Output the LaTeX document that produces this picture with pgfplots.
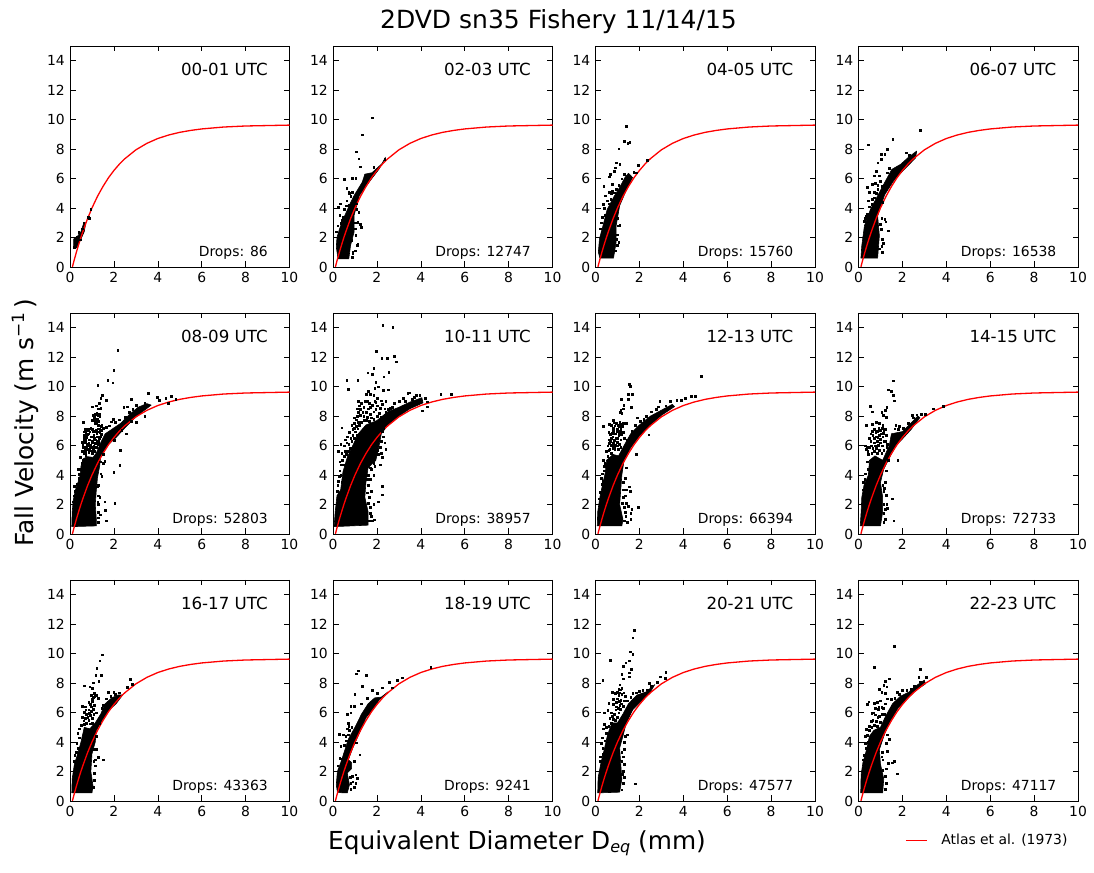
\documentclass[border=0pt]{standalone}
\usepackage{fontspec}
\setmainfont{DejaVu Sans}
\usepackage{pgfplots}
\usepackage{pgfplotstable}
\pgfplotsset{compat=1.18}

% Atlas et al. (1973) curve
\pgfplotstableread[row sep=\\]{
x y\\ 0.11 0.01\\ 0.2 0.52\\ 0.3 1.05\\ 0.4 1.55\\ 0.5 2.02\\ 0.6 2.46\\ 0.8 3.28\\ 1.0 4.00\\ 1.25 4.79\\
1.5 5.46\\ 1.75 6.05\\ 2.0 6.55\\ 2.25 6.98\\ 2.5 7.35\\ 3.0 7.95\\ 3.5 8.39\\ 4.0 8.72\\ 4.5 8.96\\
5.0 9.14\\ 5.5 9.27\\ 6.0 9.37\\ 7.0 9.50\\ 8.0 9.57\\ 9.0 9.60\\ 10.0 9.63\\
}\atlas

% one core outline (solid part of the cloud) and one table of loose drops per panel
% 00-01
\pgfplotstableread[row sep=\\]{
x y\\ 0.17 1.35\\ 0.17 1.9\\ 0.35 2.1\\ 0.5 2.4\\ 0.63 3.0\\ 0.72 3.0\\ 0.65 2.4\\ 0.5 1.9\\ 0.4 1.6\\ 0.3 1.3\\
}\coreA
\pgfplotstableread[row sep=\\]{
x y\\ 0.18 1.35\\ 0.3 2.0\\ 0.4 2.37\\ 0.62 3.0\\ 0.83 3.36\\ 0.88 3.3\\ 0.94 3.9\\ 0.48 1.85\\ 0.55 2.6\\ 0.25 1.7\\
}\dropsA
% 02-03
\pgfplotstableread[row sep=\\]{
x y\\ 0.23 0.55\\ 0.15 1.35\\ 0.18 2.0\\ 0.28 2.5\\ 0.42 3.1\\ 0.6 3.7\\ 0.78 4.3\\ 0.96 4.85\\ 1.33 5.75\\ 1.45 6.3\\ 1.78 6.4\\ 2.26 7.05\\ 2.39 7.45\\
2.1 6.65\\ 1.7 5.87\\ 1.2 4.85\\ 0.96 3.5\\ 0.96 2.37\\ 0.8 1.47\\ 0.72 0.56\\
}\coreB
\pgfplotstableread[row sep=\\]{
x y\\ 1.77 10.13\\ 1.33 8.98\\ 1.07 7.83\\ 1.17 7.34\\ 1.25 6.8\\ 0.52 5.98\\ 0.88 6.05\\ 1.04 6.05\\ 0.63 5.37\\ 0.72 5.12\\
0.88 5.08\\ 0.34 4.29\\ 0.23 4.06\\ 0.63 4.5\\ 0.72 4.18\\ 0.8 4.8\\ 1.12 3.05\\ 1.25 2.9\\ 1.3 2.7\\ 1.1 1.5\\ 0.88 0.65\\
1.85 6.77\\ 2.35 7.3\\ 0.31 3.5\\ 0.39 3.16\\ 1.12 1.58\\ 1.04 2.14\\ 1.17 3.72\\ 0.5 3.9\\ 0.45 3.4\\ 0.9 1.0\\ 0.85 1.8\\
0.15 2.4\\ 0.22 2.8\\ 0.35 2.95\\ 1.02 2.6\\ 1.0 3.0\\ 1.08 3.9\\ 1.05 4.3\\ 0.75 5.0\\ 0.6 4.15\\ 0.9 0.9\\ 1.0 1.1\\
}\dropsB
% 04-05
\pgfplotstableread[row sep=\\]{
x y\\ 0.2 0.6\\ 0.13 1.0\\ 0.18 1.9\\ 0.34 2.8\\ 0.53 3.9\\ 0.85 4.8\\ 1.1 5.4\\ 1.34 6.07\\ 1.5 6.36\\ 1.69 6.07\\ 1.42 5.28\\
1.1 4.16\\ 0.94 2.8\\ 0.94 1.69\\ 0.82 0.6\\
}\coreC
\pgfplotstableread[row sep=\\]{
x y\\ 1.39 9.55\\ 1.31 8.54\\ 1.56 8.47\\ 1.47 8.38\\ 1.06 8.02\\ 0.94 7.08\\ 1.1 7.0\\ 0.9 6.74\\ 0.85 6.52\\ 0.66 6.3\\ 0.63 6.13\\
0.37 5.5\\ 0.77 5.6\\ 1.05 5.55\\ 0.34 4.27\\ 0.45 4.83\\ 0.61 5.06\\ 0.53 4.5\\ 0.69 4.6\\ 0.77 5.17\\ 1.95 6.9\\ 2.35 7.24\\
1.74 6.45\\ 1.85 6.4\\ 1.1 2.85\\ 1.05 1.69\\ 1.0 2.2\\ 0.3 3.4\\ 0.45 3.5\\ 0.4 4.0\\ 0.95 5.3\\ 0.9 1.1\\
0.25 3.0\\ 0.22 2.6\\ 0.6 4.3\\ 0.7 5.0\\ 0.85 5.05\\ 1.0 3.3\\ 1.02 2.8\\ 0.98 1.5\\ 0.95 1.9\\ 1.2 6.0\\ 1.3 6.3\\
}\dropsC
% 06-07
\pgfplotstableread[row sep=\\]{
x y\\ 0.11 0.6\\ 0.15 1.46\\ 0.27 2.8\\ 0.55 3.93\\ 0.87 4.83\\ 1.19 5.73\\ 1.52 6.63\\ 1.92 6.97\\ 2.24 7.4\\ 2.65 7.87\\ 2.6 7.4\\
2.1 6.65\\ 1.6 5.85\\ 1.19 4.9\\ 0.87 3.48\\ 0.95 2.13\\ 0.87 0.6\\
}\coreD
\pgfplotstableread[row sep=\\]{
x y\\ 2.81 9.28\\ 1.56 8.65\\ 0.44 8.31\\ 1.31 7.98\\ 1.03 7.64\\ 1.19 7.64\\ 1.03 7.3\\ 0.87 7.08\\ 0.79 6.52\\ 0.71 6.2\\ 0.39 5.4\\
0.63 5.62\\ 0.71 5.06\\ 0.87 5.28\\ 0.39 3.6\\ 0.63 4.6\\ 0.5 5.1\\ 0.75 5.7\\ 1.35 2.47\\ 1.19 3.26\\ 1.24 3.08\\ 1.08 1.0\\
0.95 1.24\\ 1.08 1.9\\ 1.03 2.58\\ 2.16 7.75\\ 2.32 7.6\\ 0.3 3.3\\ 0.45 4.5\\ 0.95 6.2\\ 1.05 5.5\\ 1.1 4.4\\ 1.12 1.6\\
0.25 3.1\\ 0.35 3.45\\ 0.5 4.1\\ 0.6 4.25\\ 0.72 4.7\\ 0.8 5.0\\ 0.88 5.55\\ 1.0 5.8\\ 1.05 3.3\\ 1.0 2.9\\ 1.05 1.4\\ 1.3 6.4\\ 1.4 6.7\\
}\dropsD
% 08-09
\pgfplotstableread[row sep=\\]{
x y\\ 0.08 0.5\\ 0.1 1.5\\ 0.15 2.3\\ 0.25 3.0\\ 0.45 3.9\\ 0.5 4.6\\ 0.6 5.1\\ 0.8 5.25\\ 1.05 5.2\\ 1.2 5.5\\ 1.4 6.2\\ 1.6 6.8\\ 1.9 7.1\\
2.3 7.5\\ 2.7 8.1\\ 3.1 8.6\\ 3.5 8.85\\ 3.7 8.75\\ 3.3 8.3\\ 2.9 7.8\\ 2.5 7.2\\ 2.1 6.55\\ 1.7 6.0\\ 1.4 5.3\\ 1.35 4.6\\ 1.25 3.8\\
1.2 3.0\\ 1.15 2.0\\ 1.2 1.0\\ 1.2 0.55\\
}\coreE
\pgfplotstableread[row sep=\\]{
x y\\ 2.17 12.48\\ 1.99 11.13\\ 1.72 10.45\\ 1.95 10.27\\ 1.26 10.11\\ 1.47 9.44\\ 1.4 9.2\\ 1.66 9.1\\ 1.32 8.87\\ 1.0 8.65\\ 1.2 8.7\\
1.4 8.53\\ 1.3 8.5\\ 1.05 8.05\\ 1.15 8.15\\ 1.25 8.1\\ 1.35 8.0\\ 1.1 7.85\\ 1.0 7.7\\ 0.61 7.58\\ 1.2 7.6\\ 1.3 7.4\\ 0.7 7.0\\ 0.8 7.1\\
0.9 6.95\\ 1.05 7.0\\ 1.2 7.05\\ 1.35 7.1\\ 1.45 7.05\\ 0.65 6.7\\ 0.75 6.55\\ 0.85 6.8\\ 0.95 6.6\\ 1.1 6.5\\ 1.25 6.6\\ 0.55 6.25\\
0.7 6.2\\ 0.85 6.15\\ 1.0 6.3\\ 1.15 6.15\\ 1.3 6.3\\ 0.6 5.9\\ 0.75 5.9\\ 0.9 5.8\\ 1.05 5.75\\ 1.15 5.85\\ 0.55 5.6\\ 0.7 5.5\\
0.85 5.55\\ 1.0 5.45\\ 0.45 5.2\\ 0.35 4.4\\ 0.4 4.05\\ 0.2 3.25\\ 0.3 3.15\\ 3.56 9.55\\ 3.97 9.28\\ 4.06 9.1\\ 4.36 9.2\\ 4.62 9.37\\
4.47 8.87\\ 4.82 9.16\\ 2.8 9.14\\ 2.6 8.65\\ 2.45 8.6\\ 3.4 8.9\\ 2.26 4.65\\ 1.99 4.18\\ 2.04 2.08\\ 1.66 0.9\\ 1.61 1.6\\ 1.58 2.2\\
1.3 2.0\\ 1.38 1.3\\ 1.35 2.5\\ 1.3 3.3\\ 0.97 3.34\\ 1.45 3.9\\ 1.5 4.8\\ 1.58 4.92\\ 1.96 7.8\\ 1.88 7.63\\ 2.3 5.7\\ 2.55 6.8\\ 3.0 7.6\\
3.4 8.0\\ 1.3 0.8\\
0.6 5.0\\ 0.55 4.8\\ 0.48 4.4\\ 0.42 3.8\\ 0.3 3.4\\ 0.25 2.9\\ 0.18 2.6\\ 0.12 2.2\\ 0.62 5.45\\ 0.68 5.7\\ 0.72 5.35\\ 0.78 5.75\\
0.82 6.0\\ 0.88 5.65\\ 0.92 6.05\\ 0.98 5.9\\ 1.02 5.6\\ 1.08 5.95\\ 1.12 5.6\\ 1.18 5.9\\ 1.22 6.3\\ 1.28 6.1\\ 1.32 6.5\\ 1.38 6.6\\
1.42 6.75\\ 0.58 6.1\\ 0.62 6.35\\ 0.66 6.5\\ 0.72 6.35\\ 0.78 6.1\\ 0.8 6.75\\ 0.82 7.05\\ 0.88 6.4\\ 0.9 7.15\\ 0.94 7.2\\ 1.0 7.1\\
1.02 6.2\\ 1.08 6.7\\ 1.12 6.95\\ 1.15 6.4\\ 1.18 7.0\\ 1.22 6.85\\ 1.28 6.95\\ 1.3 7.15\\ 1.35 6.9\\ 1.4 7.3\\ 1.45 7.4\\ 1.5 7.2\\
0.65 6.95\\ 0.68 7.1\\ 0.72 6.75\\ 0.75 7.15\\ 1.18 7.75\\ 1.25 7.8\\ 1.28 8.05\\ 1.32 8.15\\ 1.22 8.2\\ 1.12 8.0\\ 1.08 7.7\\ 1.15 7.5\\
1.3 7.65\\ 1.25 3.2\\ 1.28 2.6\\ 1.26 2.2\\ 1.3 1.5\\ 1.28 1.1\\ 1.4 4.1\\ 1.38 4.9\\ 1.5 5.4\\ 1.65 7.25\\ 1.8 7.35\\ 2.05 7.6\\ 2.25 7.75\\
2.5 7.95\\ 2.7 8.25\\ 2.85 8.45\\ 3.0 8.75\\ 2.8 7.65\\ 2.35 7.05\\ 2.0 6.35\\
}\dropsE
% 10-11
\pgfplotstableread[row sep=\\]{
x y\\ 0.05 0.5\\ 0.1 1.5\\ 0.18 2.6\\ 0.35 3.0\\ 0.45 4.2\\ 0.65 5.2\\ 0.9 6.0\\ 1.15 6.8\\ 1.5 7.4\\ 2.0 7.7\\ 2.5 8.3\\ 3.0 8.6\\
3.5 8.95\\ 4.05 9.25\\ 4.1 8.9\\ 3.5 8.5\\ 3.0 8.0\\ 2.5 7.4\\ 2.2 6.8\\ 2.1 6.0\\ 1.95 5.0\\ 1.6 4.5\\ 1.5 3.5\\ 1.45 2.5\\ 1.6 1.5\\ 1.6 0.6\\
}\coreF
\pgfplotstableread[row sep=\\]{
x y\\ 2.26 14.17\\ 2.72 14.04\\ 1.98 12.41\\ 2.78 12.07\\ 2.22 11.94\\ 2.48 11.94\\ 2.89 11.69\\ 1.85 11.26\\ 1.58 10.95\\ 1.79 10.86\\
2.54 10.99\\ 2.31 10.68\\ 0.62 10.45\\ 1.12 10.45\\ 0.7 9.84\\ 4.91 9.5\\ 5.4 9.5\\ 4.3 8.98\\ 4.3 8.65\\ 4.07 8.37\\ 0.4 7.22\\ 2.25 3.23\\
2.25 2.66\\ 2.07 2.2\\ 1.87 0.97\\ 1.95 10.3\\ 1.9 9.9\\ 2.05 10.0\\ 2.3 9.75\\ 2.5 9.8\\ 1.6 9.7\\ 1.7 9.5\\ 1.5 9.5\\ 1.85 9.4\\ 2.0 9.2\\
2.2 9.05\\ 2.4 9.0\\ 1.9 9.0\\ 1.15 9.0\\ 1.3 8.9\\ 1.45 9.0\\ 1.65 8.9\\ 1.8 8.75\\ 2.0 8.7\\ 2.15 8.55\\ 1.1 8.5\\ 1.25 8.45\\ 1.4 8.6\\
1.6 8.5\\ 1.85 8.3\\ 2.1 8.2\\ 2.4 8.25\\ 2.7 8.6\\ 3.0 9.0\\ 3.2 9.2\\ 3.4 9.55\\ 3.5 9.6\\ 3.7 9.3\\ 0.95 7.9\\ 1.1 8.0\\ 1.25 8.05\\
1.4 8.0\\ 1.55 7.95\\ 1.75 7.9\\ 0.85 7.4\\ 0.95 7.5\\ 0.75 6.9\\ 0.9 7.1\\ 1.05 7.3\\ 0.55 6.4\\ 0.65 6.6\\ 0.8 6.5\\ 0.35 6.1\\ 0.5 6.0\\
0.62 6.2\\ 0.25 5.6\\ 0.4 5.5\\ 0.5 5.3\\ 0.3 4.9\\ 0.38 4.7\\ 0.3 4.3\\ 0.28 3.9\\ 2.3 7.2\\ 2.3 6.6\\ 2.35 6.2\\ 2.4 5.75\\ 2.2 5.5\\
2.25 5.2\\ 2.15 4.7\\ 1.9 4.6\\ 1.75 4.4\\ 1.85 4.0\\ 1.7 3.7\\ 1.6 3.3\\ 1.75 2.9\\ 1.85 2.0\\ 1.7 1.8\\ 1.75 1.2\\ 1.8 0.9\\ 4.2 9.2\\
0.42 5.0\\ 0.5 4.7\\ 0.55 5.6\\ 0.6 5.4\\ 0.7 5.6\\ 0.72 6.1\\ 0.78 5.8\\ 0.85 6.3\\ 0.9 6.7\\ 0.98 6.5\\ 1.0 6.95\\ 1.08 6.7\\ 1.12 7.15\\
0.95 7.2\\ 1.15 7.6\\ 1.2 7.4\\ 1.3 7.6\\ 1.4 7.7\\ 1.5 7.7\\ 1.65 7.65\\ 1.85 7.8\\ 2.0 8.0\\ 2.2 7.95\\ 2.35 8.1\\ 2.5 8.45\\ 2.6 8.55\\
1.05 7.75\\ 1.15 8.25\\ 1.2 8.7\\ 1.35 8.25\\ 1.5 8.25\\ 1.7 8.15\\ 1.95 8.45\\ 1.7 8.6\\ 1.95 8.95\\ 1.55 9.0\\ 2.25 8.8\\ 2.35 8.5\\
2.15 7.5\\ 2.25 7.0\\ 2.2 6.3\\ 2.15 5.9\\ 2.05 5.4\\ 2.0 5.7\\ 1.85 4.8\\ 1.7 4.5\\ 1.6 4.0\\ 1.55 3.7\\ 1.65 2.5\\ 1.55 2.8\\ 1.6 2.1\\
1.7 1.4\\ 1.65 0.9\\ 0.22 3.3\\ 0.25 3.6\\ 0.2 2.9\\ 0.42 3.5\\ 0.35 4.0\\ 2.8 8.9\\ 3.3 9.0\\ 3.6 9.15\\ 3.8 9.4\\ 3.95 9.4\\
}\dropsF
% 12-13
\pgfplotstableread[row sep=\\]{
x y\\ 0.08 0.55\\ 0.1 1.5\\ 0.2 2.5\\ 0.3 3.2\\ 0.45 4.2\\ 0.5 5.0\\ 0.8 5.4\\ 1.05 5.3\\ 1.3 6.0\\ 1.6 6.8\\ 2.0 7.4\\ 2.5 8.0\\ 3.0 8.4\\
3.5 8.8\\ 3.6 8.65\\ 3.0 8.05\\ 2.5 7.4\\ 2.0 6.65\\ 1.6 5.85\\ 1.3 5.0\\ 1.2 4.0\\ 1.15 3.0\\ 1.1 2.0\\ 1.25 1.0\\ 1.2 0.55\\
}\coreG
\pgfplotstableread[row sep=\\]{
x y\\ 4.82 10.72\\ 1.53 10.16\\ 1.58 10.02\\ 1.49 9.48\\ 1.67 9.48\\ 1.17 9.14\\ 1.49 9.15\\ 1.28 8.76\\ 1.63 8.6\\ 1.15 8.4\\ 1.25 8.5\\
1.2 8.2\\ 1.1 8.25\\ 0.35 7.3\\ 0.82 7.7\\ 0.62 7.45\\ 0.95 7.5\\ 1.1 7.6\\ 1.25 7.5\\ 0.8 7.2\\ 1.0 7.15\\ 1.15 7.2\\ 0.6 6.9\\ 0.75 6.85\\
0.9 6.8\\ 1.05 6.9\\ 0.6 6.4\\ 0.7 6.5\\ 0.85 6.35\\ 1.0 6.5\\ 1.15 6.4\\ 0.55 6.0\\ 0.7 6.05\\ 0.85 5.95\\ 1.0 6.0\\ 0.5 5.6\\ 0.65 5.75\\
0.35 5.0\\ 0.4 4.6\\ 0.3 4.1\\ 0.35 3.6\\ 4.54 9.33\\ 4.35 9.37\\ 4.09 9.2\\ 3.7 9.1\\ 3.9 9.1\\ 2.92 8.99\\ 2.87 8.65\\ 2.42 6.73\\ 1.96 1.8\\
1.85 5.4\\ 1.58 2.9\\ 1.55 3.2\\ 1.4 3.0\\ 1.35 2.6\\ 1.5 1.9\\ 1.65 1.7\\ 1.6 1.4\\ 1.35 1.5\\ 1.6 1.0\\ 1.45 0.8\\ 1.3 0.9\\ 1.4 2.1\\
1.35 3.8\\ 1.9 7.9\\ 2.2 7.8\\
0.55 5.3\\ 0.6 5.7\\ 0.62 6.15\\ 0.68 6.3\\ 0.72 5.5\\ 0.78 5.8\\ 0.82 6.15\\ 0.88 5.75\\ 0.92 6.05\\ 0.98 6.25\\ 1.02 5.75\\ 1.05 6.7\\
1.08 6.1\\ 1.12 7.0\\ 1.18 6.75\\ 0.68 6.75\\ 0.78 6.6\\ 0.82 7.0\\ 0.88 7.35\\ 0.92 6.5\\ 0.98 7.0\\ 1.02 7.4\\ 1.08 7.3\\ 1.12 7.45\\
1.22 7.3\\ 1.3 7.5\\ 1.4 7.5\\ 1.3 6.5\\ 1.25 6.9\\ 0.72 7.4\\ 0.85 7.55\\ 1.15 5.9\\ 0.42 4.8\\ 0.38 4.3\\ 0.28 3.4\\ 0.22 2.85\\ 0.25 3.8\\
0.18 2.4\\ 1.25 3.5\\ 1.25 2.5\\ 1.22 2.1\\ 1.3 1.8\\ 1.38 1.2\\ 1.25 3.0\\ 1.4 4.5\\ 1.45 6.4\\ 1.65 7.0\\ 1.8 7.4\\ 2.05 7.65\\ 2.3 8.0\\
2.55 8.3\\ 2.75 8.45\\ 3.2 8.7\\ 3.4 9.0\\
}\dropsG
% 14-15
\pgfplotstableread[row sep=\\]{
x y\\ 0.08 0.55\\ 0.12 1.5\\ 0.15 2.5\\ 0.25 3.3\\ 0.45 4.0\\ 0.5 5.0\\ 0.75 5.3\\ 1.1 5.0\\ 1.4 6.0\\ 1.5 6.8\\ 2.0 6.95\\ 2.3 7.4\\ 2.7 8.0\\
2.8 7.9\\ 2.4 7.1\\ 2.0 6.45\\ 1.7 6.0\\ 1.4 5.15\\ 1.15 4.4\\ 1.0 3.5\\ 1.1 2.5\\ 1.1 1.5\\ 1.0 0.55\\
}\coreH
\pgfplotstableread[row sep=\\]{
x y\\ 1.57 10.4\\ 1.35 9.8\\ 1.49 9.7\\ 1.57 9.4\\ 1.63 9.05\\ 0.53 8.69\\ 0.62 8.3\\ 1.29 8.6\\ 1.06 8.25\\ 1.14 8.07\\ 1.22 8.4\\ 1.25 7.95\\
3.87 8.69\\ 3.39 8.5\\ 3.04 8.15\\ 2.43 8.08\\ 0.35 7.4\\ 0.62 7.45\\ 0.8 7.6\\ 0.95 7.5\\ 1.1 7.4\\ 0.7 7.1\\ 0.85 7.0\\ 1.0 7.05\\ 1.2 7.1\\
0.55 6.8\\ 0.65 6.7\\ 0.8 6.6\\ 0.95 6.7\\ 1.1 6.6\\ 1.25 6.7\\ 0.55 6.3\\ 0.7 6.2\\ 0.85 6.3\\ 1.0 6.2\\ 1.15 6.3\\ 1.3 6.1\\ 0.3 6.0\\
0.4 5.9\\ 0.5 5.9\\ 0.65 5.8\\ 0.8 5.8\\ 0.95 5.7\\ 1.15 5.7\\ 0.45 5.4\\ 0.3 4.1\\ 0.28 3.7\\ 1.79 5.0\\ 1.52 2.4\\ 1.6 0.9\\ 1.29 2.0\\
1.3 1.75\\ 1.25 2.65\\ 1.15 2.9\\ 1.2 1.0\\ 1.15 0.8\\ 1.2 3.5\\ 1.7 7.4\\ 1.85 7.3\\
0.6 5.5\\ 0.7 5.6\\ 0.75 6.0\\ 0.85 5.5\\ 0.9 6.05\\ 0.98 6.45\\ 1.05 5.5\\ 1.08 6.0\\ 1.12 6.85\\ 1.22 6.3\\ 1.28 5.9\\ 0.72 6.5\\
0.78 6.9\\ 0.88 6.55\\ 0.92 7.2\\ 1.02 6.8\\ 1.08 7.2\\ 1.15 7.05\\ 0.6 7.0\\ 0.65 7.0\\ 0.5 6.5\\ 0.58 6.0\\ 0.42 5.6\\ 0.35 5.75\\
0.4 4.9\\ 0.42 4.4\\ 0.22 3.5\\ 0.2 3.0\\ 1.15 2.0\\ 1.15 1.4\\ 1.2 1.7\\ 1.1 3.3\\ 1.18 3.1\\ 1.25 4.3\\ 1.35 5.0\\ 1.65 7.15\\ 1.8 7.1\\
2.05 7.2\\ 2.25 7.5\\ 2.5 7.9\\ 2.65 8.1\\ 2.85 8.15\\
}\dropsH
% 16-17
\pgfplotstableread[row sep=\\]{
x y\\ 0.08 0.55\\ 0.1 1.5\\ 0.2 2.5\\ 0.35 3.2\\ 0.5 4.0\\ 0.65 5.0\\ 0.9 4.9\\ 1.15 5.3\\ 1.4 5.9\\ 1.6 6.6\\ 1.9 7.0\\ 2.2 7.2\\ 2.4 7.2\\
2.1 6.6\\ 1.8 6.2\\ 1.5 5.55\\ 1.2 4.8\\ 1.15 4.0\\ 1.0 3.2\\ 0.95 2.0\\ 1.05 1.0\\ 1.0 0.55\\
}\coreI
\pgfplotstableread[row sep=\\]{
x y\\ 1.47 9.93\\ 1.35 9.52\\ 1.22 9.03\\ 1.17 8.55\\ 1.31 8.15\\ 1.43 8.55\\ 1.05 8.03\\ 0.9 7.76\\ 0.65 7.83\\ 1.0 7.65\\ 1.1 7.3\\ 0.95 7.2\\
1.05 7.05\\ 0.85 6.7\\ 1.0 6.75\\ 0.7 6.4\\ 0.55 6.45\\ 0.85 6.2\\ 0.65 6.05\\ 0.75 5.9\\ 0.95 6.1\\ 1.05 6.25\\ 0.55 5.7\\ 0.7 5.6\\ 0.85 5.5\\
1.0 5.6\\ 0.5 5.15\\ 0.35 4.6\\ 0.3 3.9\\ 0.22 3.1\\ 2.75 8.26\\ 2.83 7.95\\ 2.6 7.72\\ 1.73 7.38\\ 1.99 7.38\\ 1.5 2.8\\ 1.28 2.96\\ 1.15 2.8\\
1.15 2.4\\ 1.1 1.9\\ 1.1 1.4\\ 1.05 0.95\\ 1.2 3.5\\ 1.3 7.0\\ 1.45 6.3\\
0.65 5.2\\ 0.75 5.3\\ 0.8 5.7\\ 0.9 5.25\\ 0.92 5.8\\ 1.02 5.3\\ 1.08 5.9\\ 0.62 5.45\\ 0.72 6.2\\ 0.88 5.95\\ 0.98 6.4\\ 1.1 6.5\\ 1.2 6.0\\
1.02 6.9\\ 0.92 6.55\\ 1.12 7.1\\ 1.18 7.2\\ 0.42 4.3\\ 0.38 3.6\\ 0.42 4.9\\ 0.28 3.3\\ 0.18 2.7\\ 1.05 3.5\\ 1.08 2.7\\ 1.2 4.4\\ 1.35 5.3\\
1.5 6.5\\ 1.65 6.95\\ 1.85 7.1\\ 2.05 7.25\\ 2.25 7.35\\
}\dropsI
% 18-19
\pgfplotstableread[row sep=\\]{
x y\\ 0.2 0.6\\ 0.15 1.1\\ 0.2 2.0\\ 0.35 2.6\\ 0.55 3.5\\ 0.7 4.2\\ 1.0 5.0\\ 1.3 5.9\\ 1.6 6.6\\ 1.9 7.0\\ 2.2 7.05\\ 2.5 7.4\\ 2.1 6.85\\ 1.8 6.2\\
1.5 5.65\\ 1.2 4.6\\ 0.9 3.6\\ 0.7 2.8\\ 0.85 2.6\\ 0.85 2.2\\ 0.65 1.9\\ 0.75 1.1\\ 0.65 0.55\\ 0.45 0.55\\
}\coreJ
\pgfplotstableread[row sep=\\]{
x y\\ 1.14 8.85\\ 1.06 8.65\\ 1.52 8.55\\ 1.34 7.8\\ 0.99 7.26\\ 0.8 6.45\\ 0.95 6.45\\ 0.65 5.88\\ 0.68 5.3\\ 0.72 5.1\\ 0.29 4.55\\ 0.45 4.5\\
0.35 3.7\\ 0.35 2.87\\ 1.22 3.14\\ 1.03 1.78\\ 1.11 1.55\\ 1.03 1.2\\ 0.9 1.3\\ 0.95 0.95\\ 0.88 1.7\\ 4.45 9.07\\ 3.16 8.37\\ 2.93 8.2\\
2.55 8.05\\ 2.25 7.7\\ 1.8 7.5\\ 0.6 4.1\\ 0.7 4.5\\ 0.75 4.8\\ 0.8 6.0\\ 1.3 6.6\\ 1.55 7.0\\ 2.0 7.3\\ 2.7 7.7\\ 0.8 0.8\\
0.5 3.8\\ 0.58 4.4\\ 0.85 5.0\\ 0.3 2.9\\ 0.22 2.4\\ 0.95 2.7\\ 0.78 1.6\\ 0.8 1.2\\ 1.05 3.95\\ 0.65 4.9\\
}\dropsJ
% 20-21
\pgfplotstableread[row sep=\\]{
x y\\ 0.1 0.55\\ 0.12 1.6\\ 0.25 2.6\\ 0.4 3.5\\ 0.55 4.5\\ 0.75 5.3\\ 1.0 5.3\\ 1.25 5.9\\ 1.5 6.6\\ 1.9 7.2\\ 2.3 7.4\\ 2.7 7.9\\ 2.5 7.4\\ 2.1 6.8\\
1.7 6.2\\ 1.4 5.3\\ 1.25 4.4\\ 1.1 3.6\\ 1.15 2.5\\ 1.2 1.5\\ 1.1 0.6\\
}\coreK
\pgfplotstableread[row sep=\\]{
x y\\ 1.75 11.6\\ 1.7 11.08\\ 1.58 10.13\\ 1.69 9.97\\ 0.67 9.57\\ 1.53 9.52\\ 1.38 9.39\\ 1.25 9.16\\ 0.33 8.22\\ 1.64 8.94\\ 1.52 8.7\\ 1.53 8.44\\
1.2 8.6\\ 1.25 8.3\\ 1.1 7.9\\ 1.05 7.6\\ 1.2 7.65\\ 0.76 7.38\\ 0.9 7.3\\ 1.05 7.2\\ 1.2 7.25\\ 1.0 6.95\\ 1.15 6.85\\ 1.35 7.1\\ 0.6 6.65\\ 0.8 6.55\\
0.95 6.4\\ 1.1 6.5\\ 0.4 6.0\\ 0.55 6.15\\ 0.7 6.0\\ 0.85 5.9\\ 1.05 6.0\\ 0.65 5.6\\ 0.8 5.55\\ 0.4 5.2\\ 0.5 5.0\\ 0.35 4.9\\ 0.3 4.3\\ 0.25 3.9\\
0.33 3.6\\ 0.22 3.0\\ 3.2 8.76\\ 2.95 8.44\\ 3.18 8.33\\ 2.45 7.99\\ 1.81 1.17\\ 1.2 0.77\\ 1.25 1.2\\ 1.3 1.6\\ 1.25 2.0\\ 1.3 2.5\\ 1.25 3.0\\ 1.3 3.5\\
1.35 4.4\\ 1.45 4.5\\ 1.7 7.3\\ 2.15 7.5\\
0.7 5.3\\ 0.6 5.1\\ 0.75 5.75\\ 0.9 5.5\\ 0.92 6.2\\ 0.98 5.7\\ 1.02 6.3\\ 1.08 6.75\\ 1.12 6.25\\ 1.18 6.6\\ 1.25 6.45\\ 1.3 6.8\\ 0.95 6.7\\
1.0 7.4\\ 1.1 7.35\\ 1.15 7.55\\ 1.28 7.35\\ 0.82 6.9\\ 0.48 4.6\\ 0.42 4.1\\ 0.35 3.2\\ 0.2 2.7\\ 1.2 2.7\\ 1.2 3.3\\ 1.22 1.8\\ 1.3 4.0\\
1.45 6.8\\ 1.6 7.05\\ 1.85 7.35\\ 2.0 7.45\\ 2.35 7.55\\ 2.55 7.8\\ 2.8 8.05\\
}\dropsK
% 22-23
\pgfplotstableread[row sep=\\]{
x y\\ 0.1 0.55\\ 0.12 1.8\\ 0.2 2.6\\ 0.35 3.4\\ 0.5 4.4\\ 0.7 4.8\\ 1.0 5.0\\ 1.25 5.8\\ 1.55 6.6\\ 1.9 7.1\\ 2.3 7.4\\ 2.7 7.9\\ 3.0 8.2\\ 3.05 7.95\\
2.6 7.5\\ 2.2 6.9\\ 1.8 6.3\\ 1.4 5.3\\ 1.2 4.6\\ 0.95 3.5\\ 1.0 2.5\\ 1.15 1.5\\ 1.1 0.55\\
}\coreL
\pgfplotstableread[row sep=\\]{
x y\\ 1.63 10.5\\ 0.71 9.08\\ 2.81 8.95\\ 1.4 8.3\\ 1.2 8.15\\ 2.74 8.39\\ 3.07 8.39\\ 0.94 7.6\\ 1.29 7.75\\ 1.15 7.85\\ 1.05 7.4\\ 1.2 7.3\\ 1.3 6.95\\
0.46 6.73\\ 0.4 6.55\\ 0.7 6.65\\ 0.85 6.7\\ 1.0 6.8\\ 0.75 6.3\\ 0.9 6.25\\ 1.05 6.35\\ 0.6 5.95\\ 0.75 5.85\\ 0.95 5.75\\ 0.5 5.1\\ 0.65 5.5\\ 0.8 5.4\\
0.3 4.4\\ 0.4 4.45\\ 0.35 4.85\\ 0.3 3.9\\ 0.25 3.1\\ 1.64 2.7\\ 1.76 1.85\\ 1.52 2.6\\ 1.35 2.55\\ 1.3 3.4\\ 1.25 3.9\\ 1.4 4.2\\ 1.3 4.5\\ 1.25 2.2\\
1.2 1.7\\ 1.2 0.8\\ 1.1 2.1\\ 1.75 7.4\\ 2.0 7.5\\ 2.4 7.6\\
0.6 5.0\\ 0.72 5.15\\ 0.85 5.1\\ 0.88 5.7\\ 1.0 5.35\\ 1.05 5.9\\ 1.12 6.3\\ 1.18 5.9\\ 1.22 6.6\\ 0.92 6.4\\ 0.68 6.0\\ 0.58 5.4\\ 0.48 4.8\\ 0.42 4.0\\
0.35 3.6\\ 0.22 2.8\\ 1.08 3.3\\ 1.1 2.8\\ 1.05 3.0\\ 1.25 1.2\\ 1.5 6.9\\ 1.65 7.0\\ 1.85 7.25\\ 2.2 7.5\\ 2.55 7.8\\ 2.8 8.1\\
}\dropsL

\newcommand{\sz}[1]{\fontsize{#1}{#1}\selectfont}

\pgfplotsset{
  panel/.style={
    width=219.5pt, height=221pt, scale only axis,
    xmin=0, xmax=10, ymin=0, ymax=15,
    xtick={0,2,...,10}, ytick={0,2,...,14},
    tick align=inside, major tick length=5.5pt,
    tick style={black, line width=0.6pt},
    axis line style={line width=0.9pt},
    /pgf/number format/assume math mode=true,
    tick label style={font=\sz{13.9}},
    xticklabel style={inner sep=0pt, yshift=-5pt},
    yticklabel style={inner sep=0pt, xshift=-5pt},
    anchor=south west,
    legend style={draw=none, fill=none, font=\sz{13.9}, at={(0.198,-0.178)}, anchor=west},
    legend image code/.code={\draw[red,line width=1.2pt] (0pt,0pt) -- (21pt,0pt); \path (33pt,0pt);},
  },
}

% x, y of lower left corner, hours, drop count, core, loose drops, extra
\newcommand{\panel}[7]{%
  \begin{axis}[panel, at={(#1pt,#2pt)}]
    \addplot[fill=black, draw=black, line width=0.6pt, line join=round, forget plot] table {#5} -- cycle;
    \addplot[only marks, mark=square*, mark size=0.85pt, black, forget plot] table {#6};
    \addplot[red, line width=1.3pt] table {\atlas};
    #7
    \node[anchor=base east, inner sep=0pt, font=\sz{16.67}] at (axis cs:9.02,12.97) {#3 UTC};
    \node[anchor=base east, inner sep=0pt, font=\sz{13.9}] at (axis cs:9.02,0.68) {Drops: #4};
  \end{axis}%
}

\begin{document}
\begin{tikzpicture}[x=1pt,y=1pt]
  \path[use as bounding box] (0,0) rectangle (1094,872);
  \panel{70}{605}{00-01}{86}{\coreA}{\dropsA}{}
  \panel{333}{605}{02-03}{12747}{\coreB}{\dropsB}{}
  \panel{595.5}{605}{04-05}{15760}{\coreC}{\dropsC}{}
  \panel{858.5}{605}{06-07}{16538}{\coreD}{\dropsD}{}
  \panel{70}{338}{08-09}{52803}{\coreE}{\dropsE}{}
  \panel{333}{338}{10-11}{38957}{\coreF}{\dropsF}{}
  \panel{595.5}{338}{12-13}{66394}{\coreG}{\dropsG}{}
  \panel{858.5}{338}{14-15}{72733}{\coreH}{\dropsH}{}
  \panel{70}{71}{16-17}{43363}{\coreI}{\dropsI}{}
  \panel{333}{71}{18-19}{9241}{\coreJ}{\dropsJ}{}
  \panel{595.5}{71}{20-21}{47577}{\coreK}{\dropsK}{}
  \panel{858.5}{71}{22-23}{47117}{\coreL}{\dropsL}{\addlegendentry{Atlas et al. (1973)}}
  \node[font=\sz{25}] at (558.5,850) {2DVD sn35 Fishery 11/14/15};
  \node[font=\sz{24.8}] at (517,29) {Equivalent Diameter D\raisebox{-3.5pt}{\sz{16}\itshape eq} (mm)};
  \node[font=\sz{24.8}, rotate=90] at (25,449.5) {Fall Velocity (m s\raisebox{9pt}{\sz{17}−1}\,)};
\end{tikzpicture}
\end{document}
